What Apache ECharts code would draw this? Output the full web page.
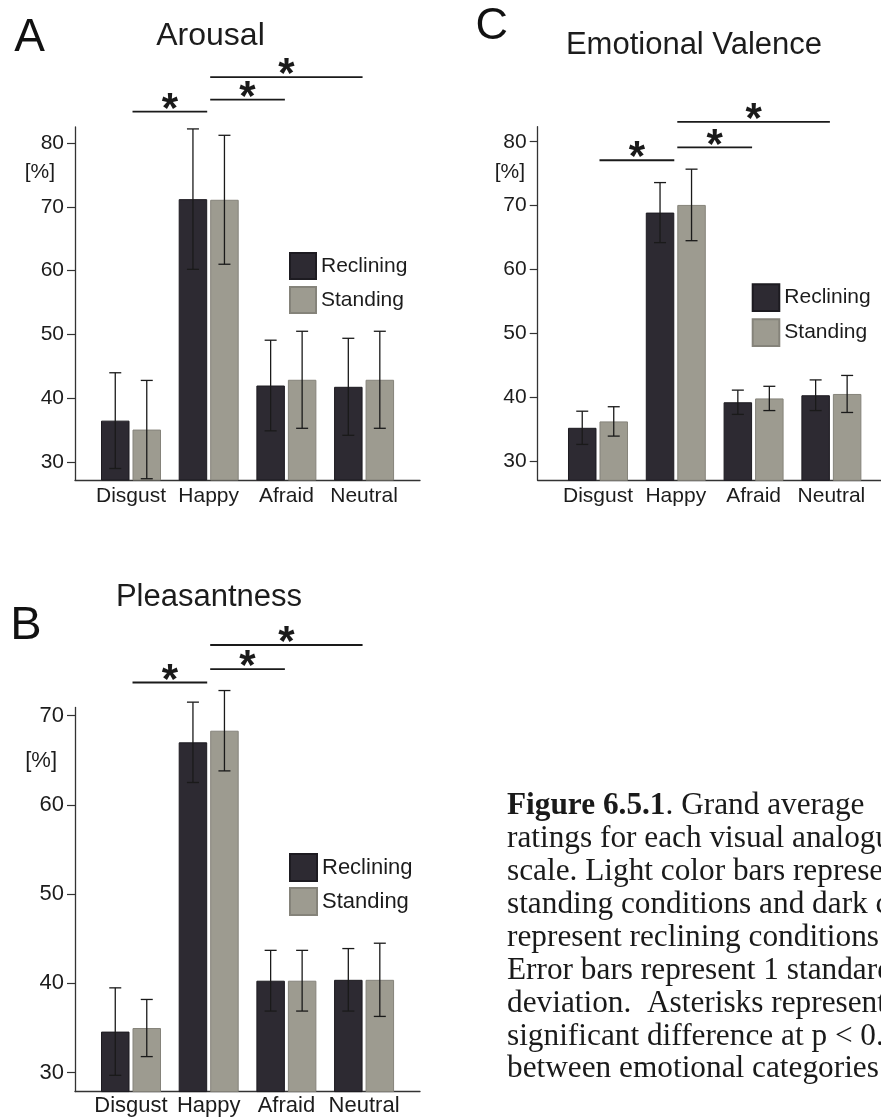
<!DOCTYPE html>
<html>
<head>
<meta charset="utf-8">
<script src="https://cdn.jsdelivr.net/npm/echarts@6/dist/echarts.min.js"></script>
<style>
  html, body { margin: 0; padding: 0; background: #ffffff; }
  #chart { width: 881px; height: 1120px; }
</style>
</head>
<body>
<div id="chart"></div>
<script>
// ---- data -------------------------------------------------------------
const categories = ['Disgust', 'Happy', 'Afraid', 'Neutral'];
const seriesNames = ['Reclining', 'Standing'];

// Arousal: grand average rating (%) and 1 SD
const arousalReclining   = [36.5, 71.2, 42.0, 41.8];
const arousalRecliningSD = [7.5, 11.0, 7.1, 7.6];
const arousalStanding    = [35.1, 71.1, 42.9, 42.9];
const arousalStandingSD  = [7.7, 10.1, 7.6, 7.6];

// Pleasantness
const pleasantReclining   = [34.6, 67.0, 40.3, 40.4];
const pleasantRecliningSD = [4.9, 4.5, 3.4, 3.5];
const pleasantStanding    = [35.0, 68.3, 40.3, 40.4];
const pleasantStandingSD  = [3.2, 4.5, 3.4, 4.1];

// Emotional valence
const valenceReclining   = [35.2, 68.9, 39.2, 40.3];
const valenceRecliningSD = [2.6, 4.7, 1.9, 2.4];
const valenceStanding    = [36.2, 70.1, 39.8, 40.5];
const valenceStandingSD  = [2.3, 5.6, 1.9, 2.9];

// tick labels of the rating axes
const arousalTicks  = [30, 40, 50, 60, 70, 80];
const valenceTicks  = [30, 40, 50, 60, 70, 80];
const pleasantTicks = [30, 40, 50, 60, 70];

// significant category pairs (indices into categories) and bracket heights in %
const sigPairs = [[0, 1], [1, 2], [1, 3]];
const arousalSigLevels  = [84.9, 86.8, 90.3];
const pleasantSigLevels = [73.7, 75.2, 77.9];
const valenceSigLevels  = [77.1, 79.1, 83.1];

const captionLines = [
  '{b|Figure 6.5.1}. Grand average',
  'ratings for each visual analogue',
  'scale. Light color bars represent',
  'standing conditions and dark color bars',
  'represent reclining conditions.',
  'Error bars represent 1 standard',
  'deviation.  Asterisks represent a',
  'significant difference at p < 0.05',
  'between emotional categories.'
];

// ---- styling / layout -------------------------------------------------
const FONT = '"Liberation Sans", Arial, Helvetica, sans-serif';
const SERIF = '"Liberation Serif", "Times New Roman", serif';
const TEXT = '#1c1c1c';
const AXIS = '#333333';
const DARK = '#2d2a32';
const LIGHT = '#9d9b90';
const BAR_W = 28.5;
const BAR_GAP = 3;
const CAP = 6;
const CAPTION_SIZE = 31.3;

const panels = [
  {
    title: 'Arousal', letter: 'A', titleSize: 32,
    rec: arousalReclining, recSD: arousalRecliningSD,
    sta: arousalStanding, staSD: arousalStandingSD,
    ticks: arousalTicks, sig: arousalSigLevels,
    grid: { left: 75, top: 127, width: 345, height: 353 },
    xMin: 0.279, xMax: 4.72, yMin: 27.2, yMax: 82.5,
    fs: 21, xMargin: 6, unitGap: -45, unitPad: 20,
    legend: { left: 289, top: 252, size: 26, gap: 6 },
    titlePos: [210.5, 36], letterPos: [29.5, 38.5], letterSize: 46
  },
  {
    title: 'Pleasantness', letter: 'B', titleSize: 31,
    rec: pleasantReclining, recSD: pleasantRecliningSD,
    sta: pleasantStanding, staSD: pleasantStandingSD,
    ticks: pleasantTicks, sig: pleasantSigLevels,
    grid: { left: 75, top: 707.5, width: 345, height: 384.1 },
    xMin: 0.279, xMax: 4.72, yMin: 27.88, yMax: 70.9,
    fs: 22, xMargin: 3, unitGap: -53.7, unitPad: 18,
    legend: { left: 289, top: 853, size: 27, gap: 5 },
    titlePos: [209, 597], letterPos: [26, 626.5], letterSize: 47
  },
  {
    title: 'Emotional Valence', letter: 'C', titleSize: 31,
    rec: valenceReclining, recSD: valenceRecliningSD,
    sta: valenceStanding, staSD: valenceStandingSD,
    ticks: valenceTicks, sig: valenceSigLevels,
    grid: { left: 537.7, top: 126.7, width: 349.7, height: 353.6 },
    xMin: 0.225, xMax: 4.72, yMin: 26.98, yMax: 82.35,
    fs: 21, xMargin: 5, unitGap: -45.3, unitPad: 12.7,
    legend: { left: 751.7, top: 283.3, size: 26.6, gap: 6.4 },
    titlePos: [694, 45], letterPos: [491.7, 27], letterSize: 45
  }
];

// ---- option -----------------------------------------------------------
const option = {
  animation: false,
  backgroundColor: '#ffffff',
  grid: [], xAxis: [], yAxis: [], series: [], legend: [], graphic: []
};

function errorBars(i, means, sds, side) {
  return {
    type: 'custom', xAxisIndex: i, yAxisIndex: i, z: 5, silent: true,
    encode: { x: 0, y: 1 },
    data: means.map((m, k) => [k + 1, m, sds[k]]),
    renderItem: function (params, api) {
      const x = api.value(0), m = api.value(1), s = api.value(2);
      const top = api.coord([x, m + s]);
      const bot = api.coord([x, m - s]);
      const cx = top[0] + side * (BAR_W + BAR_GAP) / 2;
      const st = { stroke: '#1a1a1a', lineWidth: 1.3 };
      return {
        type: 'group', children: [
          { type: 'line', shape: { x1: cx, y1: top[1], x2: cx, y2: bot[1] }, style: st },
          { type: 'line', shape: { x1: cx - CAP, y1: top[1], x2: cx + CAP, y2: top[1] }, style: st },
          { type: 'line', shape: { x1: cx - CAP, y1: bot[1], x2: cx + CAP, y2: bot[1] }, style: st }
        ]
      };
    }
  };
}

function brackets(i, levels) {
  return {
    type: 'custom', xAxisIndex: i, yAxisIndex: i, z: 5, silent: true, clip: false,
    encode: { x: [0, 1], y: 2 },
    data: sigPairs.map((pr, k) => [pr[0] + 1, pr[1] + 1, levels[k]]),
    renderItem: function (params, api) {
      const a = api.coord([api.value(0), api.value(2)]);
      const b = api.coord([api.value(1), api.value(2)]);
      const x1 = a[0] + 1.5, x2 = b[0] - 1.5;
      return {
        type: 'group', children: [
          { type: 'line', shape: { x1: x1, y1: a[1], x2: x2, y2: a[1] },
            style: { stroke: '#1a1a1a', lineWidth: 1.8 } },
          { type: 'text', x: (x1 + x2) / 2, y: a[1] - 1.5,
            style: { text: '*', fontSize: 42, fontWeight: 'bold', fontFamily: FONT,
                     fill: '#1a1a1a', align: 'center', verticalAlign: 'middle' } }
        ]
      };
    }
  };
}

panels.forEach(function (p, i) {
  option.grid.push(Object.assign({ containLabel: false, outerBoundsMode: 'none' }, p.grid));

  option.xAxis.push({
    type: 'value', gridIndex: i, min: p.xMin, max: p.xMax,
    splitLine: { show: false },
    axisLine: { show: true, onZero: false, lineStyle: { color: AXIS, width: 1.3 } },
    axisTick: { show: false },
    axisLabel: {
      customValues: [1, 2, 3, 4],
      formatter: function (v) { return categories[Math.round(v) - 1]; },
      fontSize: p.fs, fontFamily: FONT, color: TEXT, margin: p.xMargin
    }
  });

  option.yAxis.push({
    type: 'value', gridIndex: i, min: p.yMin, max: p.yMax,
    name: '[%]', nameLocation: 'end', nameGap: p.unitGap, nameMoveOverlap: false,
    nameTextStyle: { fontSize: p.fs, fontFamily: FONT, color: TEXT,
                     align: 'right', verticalAlign: 'middle', padding: [0, p.unitPad, 0, 0] },
    splitLine: { show: false },
    axisLine: { show: true, onZero: false, lineStyle: { color: AXIS, width: 1.3 } },
    axisTick: { show: true, customValues: p.ticks, length: 8, lineStyle: { color: AXIS, width: 1.2 } },
    axisLabel: { customValues: p.ticks, fontSize: p.fs, fontFamily: FONT, color: TEXT, margin: 11 }
  });

  option.series.push({
    name: seriesNames[0], type: 'bar', xAxisIndex: i, yAxisIndex: i,
    barWidth: BAR_W, barGap: (BAR_GAP / BAR_W * 100).toFixed(1) + '%',
    itemStyle: { color: DARK, borderColor: '#1d1b21', borderWidth: 1 },
    data: p.rec.map((v, k) => [k + 1, v])
  });
  option.series.push({
    name: seriesNames[1], type: 'bar', xAxisIndex: i, yAxisIndex: i,
    barWidth: BAR_W, barGap: (BAR_GAP / BAR_W * 100).toFixed(1) + '%',
    itemStyle: { color: LIGHT, borderColor: '#85837a', borderWidth: 1 },
    data: p.sta.map((v, k) => [k + 1, v])
  });
  option.series.push(errorBars(i, p.rec, p.recSD, -1));
  option.series.push(errorBars(i, p.sta, p.staSD, 1));
  option.series.push(brackets(i, p.sig));

  option.legend.push({
    data: seriesNames, orient: 'vertical', left: p.legend.left, top: p.legend.top,
    padding: 0, itemWidth: p.legend.size, itemHeight: p.legend.size, itemGap: p.legend.gap,
    icon: 'rect', selectedMode: false,
    textStyle: { fontSize: p.fs, fontFamily: FONT, color: TEXT }
  });

  option.graphic.push({
    type: 'text', x: p.titlePos[0], y: p.titlePos[1], silent: true,
    style: { text: p.title, fontSize: p.titleSize, fontFamily: FONT, fill: TEXT,
             align: 'center', verticalAlign: 'middle' }
  });
  option.graphic.push({
    type: 'text', x: p.letterPos[0], y: p.letterPos[1], silent: true,
    style: { text: p.letter, fontSize: p.letterSize, fontFamily: FONT, fill: '#111111',
             align: 'center', verticalAlign: 'middle' }
  });
});

// figure caption, set in a serif face and running past the right edge
captionLines.forEach(function (line, k) {
  option.graphic.push({
    type: 'text', x: 507, y: 806 + k * 32.9, silent: true,
    style: {
      text: line, fontSize: CAPTION_SIZE, fontFamily: SERIF, fill: '#1a1a1a',
      align: 'left', verticalAlign: 'middle',
      rich: { b: { fontSize: CAPTION_SIZE, fontFamily: SERIF, fontWeight: 'bold', fill: '#1a1a1a' } }
    }
  });
});

const chart = echarts.init(document.getElementById('chart'), null, { renderer: 'canvas' });
chart.setOption(option);
</script>
</body>
</html>
